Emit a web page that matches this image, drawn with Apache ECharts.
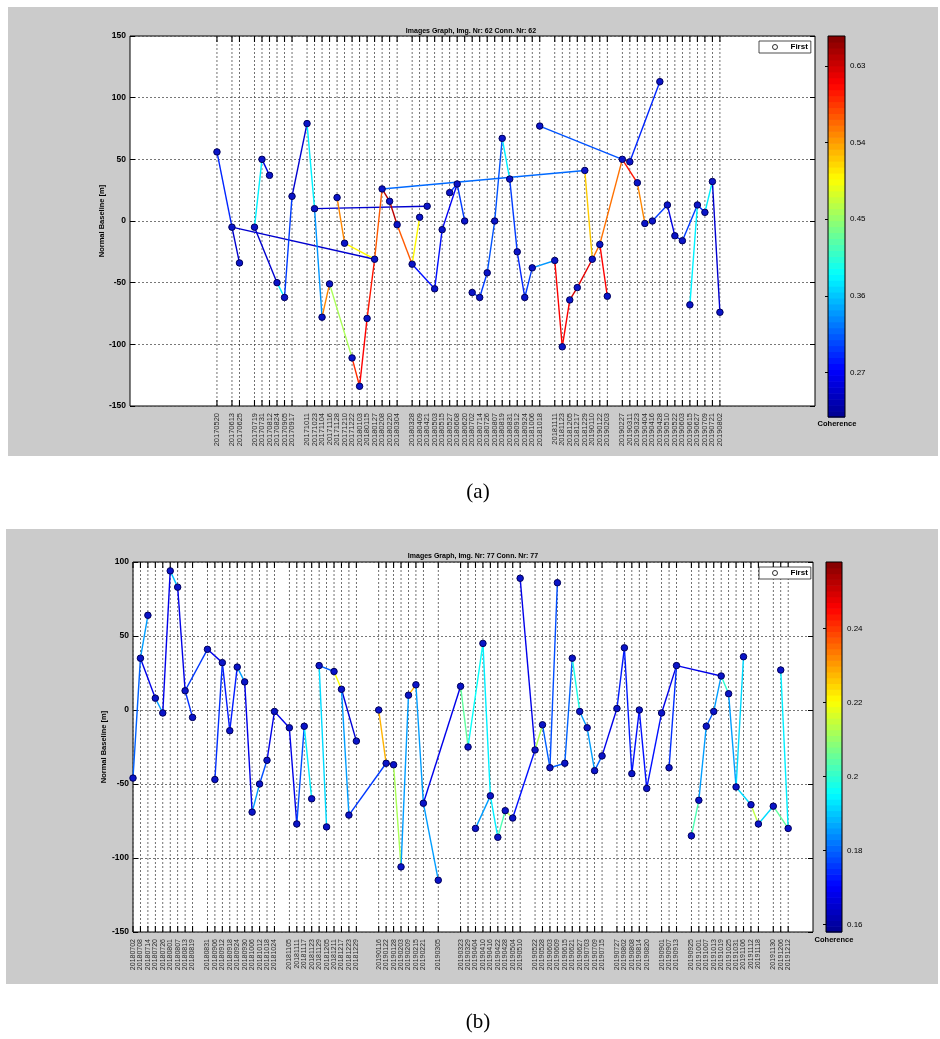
<!DOCTYPE html>
<html>
<head>
<meta charset="utf-8">
<script src="https://cdn.jsdelivr.net/npm/echarts@6/dist/echarts.min.js"></script>
<style>
  html, body { margin: 0; padding: 0; background: #fff; }
  #chart { width: 940px; height: 1039px; }
</style>
</head>
<body>
<div id="chart"></div>
<script>
// ---------- Panel (a): 62 acquisitions ----------
const datesA = ['20170520','20170613','20170625','20170719','20170731','20170812','20170824','20170905','20170917','20171011','20171023','20171104','20171116','20171128','20171210','20171222','20180103','20180115','20180127','20180208','20180220','20180304','20180328','20180409','20180421','20180503','20180515','20180527','20180608','20180620','20180702','20180714','20180726','20180807','20180819','20180831','20180912','20180924','20181006','20181018','20181111','20181123','20181205','20181217','20181229','20190110','20190122','20190203','20190227','20190311','20190323','20190404','20190416','20190428','20190510','20190522','20190603','20190615','20190627','20190709','20190721','20190802'];
const baselineA = [56,-5,-34,-5,50,37,-50,-62,20,79,10,-78,-51,19,-18,-111,-134,-79,-31,26,16,-3,-35,3,12,-55,-7,23,30,0,-58,-62,-42,0,67,34,-25,-62,-38,77,-32,-102,-64,-54,41,-31,-19,-61,50,48,31,-2,0,113,13,-12,-16,-68,13,7,32,-74];
// interferometric pairs: [master, slave, coherence]
const edgesA = [
  ['20170520','20170613',0.29],['20170613','20170625',0.25],['20170613','20180127',0.25],
  ['20170719','20170731',0.38],['20170731','20170812',0.26],['20170719','20170824',0.25],
  ['20170824','20170905',0.38],['20170905','20170917',0.30],['20170917','20171011',0.25],
  ['20171011','20171023',0.38],['20171023','20180421',0.25],['20171023','20171104',0.34],
  ['20171104','20171116',0.55],['20171116','20171222',0.46],['20171222','20180103',0.59],
  ['20180103','20180115',0.61],['20180115','20180127',0.60],['20180127','20180208',0.57],
  ['20171128','20171210',0.55],['20171210','20180127',0.50],['20180208','20180220',0.64],
  ['20180208','20181229',0.32],['20180220','20180304',0.64],['20180304','20180328',0.57],
  ['20180328','20180409',0.50],['20180328','20180503',0.28],['20180503','20180515',0.28],
  ['20180515','20180608',0.27],['20180527','20180608',0.30],['20180608','20180620',0.30],
  ['20180702','20180714',0.30],['20180714','20180726',0.30],['20180726','20180807',0.31],
  ['20180807','20180819',0.31],['20180819','20180831',0.38],['20180831','20180912',0.30],
  ['20180912','20180924',0.29],['20180924','20181006',0.30],['20181006','20181111',0.34],
  ['20181018','20190227',0.31],['20181111','20181123',0.61],['20181123','20181205',0.61],
  ['20181205','20181217',0.63],['20181217','20190110',0.62],['20181229','20190110',0.52],
  ['20190110','20190122',0.56],['20190122','20190203',0.61],['20190122','20190227',0.56],
  ['20190227','20190311',0.60],['20190227','20190323',0.60],['20190311','20190428',0.29],
  ['20190323','20190404',0.55],['20190404','20190416',0.50],['20190416','20190510',0.30],
  ['20190510','20190522',0.26],['20190522','20190603',0.29],['20190603','20190627',0.30],
  ['20190615','20190627',0.38],['20190627','20190709',0.29],['20190709','20190721',0.38],
  ['20190721','20190802',0.25]
];
const cohRangeA = [0.218, 0.665];
const cohTicksA = [0.27, 0.36, 0.45, 0.54, 0.63];
const titleA = 'Images Graph, Img. Nr: 62 Conn. Nr: 62';

// ---------- Panel (b): 77 acquisitions ----------
const datesB = ['20180702','20180708','20180714','20180720','20180726','20180801','20180807','20180813','20180819','20180831','20180906','20180912','20180918','20180924','20180930','20181006','20181012','20181018','20181024','20181105','20181111','20181117','20181123','20181129','20181205','20181211','20181217','20181223','20181229','20190116','20190122','20190128','20190203','20190209','20190215','20190221','20190305','20190323','20190329','20190404','20190410','20190416','20190422','20190428','20190504','20190510','20190522','20190528','20190603','20190609','20190615','20190621','20190627','20190703','20190709','20190715','20190727','20190802','20190808','20190814','20190820','20190901','20190907','20190913','20190925','20191001','20191007','20191013','20191019','20191025','20191031','20191106','20191112','20191118','20191130','20191206','20191212'];
const baselineB = [-46,35,64,8,-2,94,83,13,-5,41,-47,32,-14,29,19,-69,-50,-34,-1,-12,-77,-11,-60,30,-79,26,14,-71,-21,0,-36,-37,-106,10,17,-63,-115,16,-25,-80,45,-58,-86,-68,-73,89,-27,-10,-39,86,-36,35,-1,-12,-41,-31,1,42,-43,0,-53,-2,-39,30,-85,-61,-11,-1,23,11,-52,36,-64,-77,-65,27,-80];
const edgesB = [
  ['20180702','20180708',0.180],['20180708','20180714',0.186],['20180708','20180720',0.168],
  ['20180720','20180726',0.186],['20180726','20180801',0.168],['20180801','20180807',0.190],
  ['20180807','20180813',0.168],['20180813','20180819',0.175],['20180813','20180831',0.176],
  ['20180831','20180912',0.168],['20180906','20180912',0.175],['20180912','20180918',0.173],
  ['20180918','20180924',0.173],['20180924','20180930',0.186],['20180930','20181006',0.168],
  ['20181006','20181012',0.186],['20181012','20181018',0.178],['20181018','20181024',0.168],
  ['20181024','20181105',0.168],['20181105','20181111',0.168],['20181111','20181117',0.178],
  ['20181117','20181123',0.194],['20181129','20181205',0.192],['20181129','20181211',0.180],
  ['20181211','20181217',0.220],['20181217','20181229',0.166],['20181217','20181223',0.186],
  ['20181223','20190122',0.176],['20190116','20190122',0.228],['20190122','20190128',0.252],
  ['20190128','20190203',0.212],['20190203','20190209',0.186],['20190209','20190215',0.228],
  ['20190215','20190221',0.186],['20190221','20190305',0.186],['20190221','20190323',0.168],
  ['20190323','20190329',0.205],['20190329','20190410',0.196],['20190404','20190416',0.186],
  ['20190410','20190416',0.194],['20190416','20190422',0.194],['20190422','20190428',0.203],
  ['20190428','20190504',0.214],['20190504','20190522',0.172],['20190510','20190522',0.168],
  ['20190522','20190528',0.212],['20190528','20190603',0.180],['20190603','20190609',0.178],
  ['20190603','20190615',0.180],['20190615','20190621',0.180],['20190621','20190627',0.198],
  ['20190627','20190703',0.186],['20190703','20190709',0.186],['20190709','20190715',0.180],
  ['20190715','20190727',0.168],['20190727','20190802',0.173],['20190802','20190808',0.173],
  ['20190808','20190814',0.172],['20190814','20190820',0.172],['20190820','20190901',0.172],
  ['20190901','20190913',0.168],['20190907','20190913',0.175],['20190913','20191019',0.168],
  ['20190925','20191001',0.203],['20191001','20191007',0.186],['20191007','20191013',0.180],
  ['20191013','20191019',0.186],['20191019','20191025',0.200],['20191025','20191031',0.186],
  ['20191031','20191106',0.192],['20191031','20191112',0.192],['20191112','20191118',0.214],
  ['20191118','20191130',0.192],['20191130','20191212',0.205],['20191206','20191212',0.194]
];
const cohRangeB = [0.158, 0.258];
const cohTicksB = [0.16, 0.18, 0.2, 0.22, 0.24];
const titleB = 'Images Graph, Img. Nr: 77 Conn. Nr: 77';

// ---------- drawing helpers ----------
const FONT = "'Liberation Sans', Arial, sans-serif";
const JET = ['#00008f','#0000ff','#0080ff','#00ffff','#80ff80','#ffff00','#ff8000','#ff0000','#800000'];
const ymd = s => Date.UTC(+s.slice(0, 4), +s.slice(4, 6) - 1, +s.slice(6, 8));

// vertical dotted ruler + inner ticks + rotated date label for each acquisition
function rulerRenderer(dates, fontSize) {
  return function (params, api) {
    const cs = params.coordSys;
    const px = api.coord([api.value(0), api.value(1)])[0];
    const top = cs.y, bot = cs.y + cs.height;
    return {
      type: 'group',
      children: [
        { type: 'line', shape: { x1: px, y1: top, x2: px, y2: bot },
          style: { stroke: '#4d4d4d', lineWidth: 0.8, lineDash: [2, 2] } },
        { type: 'line', shape: { x1: px, y1: top, x2: px, y2: top + 6 },
          style: { stroke: '#000', lineWidth: 1.1 } },
        { type: 'line', shape: { x1: px, y1: bot, x2: px, y2: bot - 6 },
          style: { stroke: '#000', lineWidth: 1.1 } },
        { type: 'text', x: px, y: bot + 7, rotation: Math.PI / 2,
          style: { text: dates[params.dataIndex], x: 0, y: 0, align: 'right', verticalAlign: 'middle',
                   fontSize: fontSize, fontFamily: FONT, fill: '#2a2a2a' } }
      ]
    };
  };
}

function edgeRenderer(params, api) {
  const p1 = api.coord([api.value(0), api.value(1)]);
  const p2 = api.coord([api.value(2), api.value(3)]);
  return { type: 'line', shape: { x1: p1[0], y1: p1[1], x2: p2[0], y2: p2[1] },
           style: { stroke: api.visual('color'), lineWidth: 1.4 } };
}

function bandRenderer(params, api) {
  const p1 = api.coord([0, api.value(1)]);
  const p2 = api.coord([1, api.value(3)]);
  return { type: 'rect', shape: { x: p1[0], y: p2[1], width: p2[0] - p1[0], height: p1[1] - p2[1] + 0.6 },
           style: { fill: api.visual('color') } };
}

function edgeData(dates, base, edges) {
  return edges.map(([a, b, c]) => {
    const i = dates.indexOf(a), j = dates.indexOf(b);
    return [ymd(a), base[i], ymd(b), base[j], c];
  });
}

function bandData(range) {
  const n = 64, out = [];
  const step = (range[1] - range[0]) / n;
  for (let k = 0; k < n; k++) {
    const lo = range[0] + k * step, hi = lo + step;
    out.push([0, lo, 1, hi, (lo + hi) / 2]);
  }
  return out;
}

const fmtCoh = v => String(+v.toFixed(2));

function panel(p) {
  const gi = p.gridBase;        // main grid index; colour bar grid is gi + 1
  const grids = [
    { left: p.plot[0], top: p.plot[1], width: p.plot[2], height: p.plot[3],
      show: true, backgroundColor: '#fff', borderColor: '#000', borderWidth: 1 },
    { left: p.bar[0], top: p.bar[1], width: p.bar[2], height: p.bar[3],
      show: true, backgroundColor: 'transparent', borderColor: '#000', borderWidth: 1, z: 5 }
  ];
  const xAxes = [
    { gridIndex: gi, type: 'value', min: ymd(p.xStart), max: ymd(p.xEnd),
      axisLine: { show: false }, axisTick: { show: false }, axisLabel: { show: false }, splitLine: { show: false } },
    { gridIndex: gi + 1, type: 'value', min: 0, max: 1, show: false }
  ];
  const yBase = p.yAxisBase;
  const yAxes = [
    { gridIndex: gi, type: 'value', min: p.yMin, max: p.yMax, interval: 50,
      name: 'Normal Baseline [m]', nameLocation: 'middle', nameGap: p.nameGap, nameRotate: 90,
      nameMoveOverlap: false,
      nameTextStyle: { fontSize: 7.5, fontWeight: 'bold', fontFamily: FONT, color: '#000' },
      axisLine: { show: false },
      axisTick: { show: true, inside: true, length: 5, lineStyle: { color: '#000', width: 1 } },
      axisLabel: { fontSize: 8.5, fontWeight: 'bold', fontFamily: FONT, color: '#000', margin: 4 },
      splitLine: { show: true, lineStyle: { color: '#555', width: 0.8, type: [2, 2] } } },
    { gridIndex: gi, type: 'value', position: 'right', min: p.yMin, max: p.yMax, interval: 50,
      axisLine: { show: false }, axisLabel: { show: false }, splitLine: { show: false },
      axisTick: { show: true, inside: true, length: 5, lineStyle: { color: '#000', width: 1 } } },
    { gridIndex: gi + 1, type: 'value', position: 'right', min: p.coh[0], max: p.coh[1],
      axisLine: { show: false }, splitLine: { show: false },
      axisTick: { show: true, inside: true, length: 3, customValues: p.cohTicks, lineStyle: { color: '#000' } },
      axisLabel: { show: true, customValues: p.cohTicks, formatter: fmtCoh, margin: 5,
                   fontSize: 8, fontFamily: FONT, color: '#000' } },
    { gridIndex: gi + 1, type: 'value', position: 'left', min: p.coh[0], max: p.coh[1],
      axisLine: { show: false }, splitLine: { show: false }, axisLabel: { show: false },
      axisTick: { show: true, inside: true, length: 3, customValues: p.cohTicks, lineStyle: { color: '#000' } } }
  ];
  const series = [
    { type: 'custom', name: 'dates', xAxisIndex: gi, yAxisIndex: yBase, clip: false, silent: true, z: 1,
      renderItem: rulerRenderer(p.dates, p.labelSize),
      data: p.dates.map(d => [ymd(d), p.yMin]) },
    { type: 'custom', name: 'pairs', xAxisIndex: gi, yAxisIndex: yBase, silent: true, z: 2,
      encode: { x: [0, 2], y: [1, 3] },
      renderItem: edgeRenderer, data: edgeData(p.dates, p.base, p.edges) },
    { type: 'scatter', name: 'images', xAxisIndex: gi, yAxisIndex: yBase, z: 3, silent: true,
      symbol: 'circle', symbolSize: 6.5,
      itemStyle: { color: '#0a14c8', borderColor: '#00005a', borderWidth: 1, opacity: 1 },
      data: p.dates.map((d, i) => [ymd(d), p.base[i]]) },
    { type: 'custom', name: 'colorbar', xAxisIndex: gi + 1, yAxisIndex: yBase + 2, silent: true, z: 2,
      encode: { x: [0, 2], y: [1, 3] },
      renderItem: bandRenderer, data: bandData(p.coh) }
  ];
  return { grids, xAxes, yAxes, series };
}

const A = panel({
  gridBase: 0, yAxisBase: 0, dates: datesA, base: baselineA, edges: edgesA,
  coh: cohRangeA, cohTicks: cohTicksA, yMin: -150, yMax: 150,
  xStart: '20170101', xEnd: '20200101', labelSize: 7.5, nameGap: 24,
  plot: [130, 36, 685, 370], bar: [828, 36, 17, 381]
});
const B = panel({
  gridBase: 2, yAxisBase: 4, dates: datesB, base: baselineB, edges: edgesB,
  coh: cohRangeB, cohTicks: cohTicksB, yMin: -150, yMax: 100,
  xStart: '20180702', xEnd: '20200101', labelSize: 7, nameGap: 25,
  plot: [133, 562, 680, 370], bar: [826, 562, 16, 370]
});

const legendStyle = (top) => ({
  data: [{ name: 'First', icon: 'circle', itemStyle: { color: '#fff', borderColor: '#000', borderWidth: 1 } }],
  left: 759, top: top, orient: 'horizontal', selectedMode: false,
  itemWidth: 5, itemHeight: 5, padding: [2, 3, 2, 13],
  backgroundColor: '#fff', borderColor: '#222', borderWidth: 0.8, borderRadius: 0,
  textStyle: { fontSize: 8, fontWeight: 'bold', fontFamily: FONT, color: '#000', padding: [0, 0, 0, 8] }
});

const text = (x, y, str, size, weight, family) => ({
  type: 'text', x: x, y: y, silent: true, z: 10,
  style: { text: str, align: 'center', verticalAlign: 'middle', fontSize: size,
           fontWeight: weight || 'normal', fontFamily: family || FONT, fill: '#000' }
});

const option = {
  animation: false,
  backgroundColor: '#fff',
  grid: [...A.grids, ...B.grids],
  xAxis: [...A.xAxes, ...B.xAxes],
  yAxis: [...A.yAxes, ...B.yAxes],
  visualMap: [
    { type: 'continuous', show: false, min: cohRangeA[0], max: cohRangeA[1], dimension: 4,
      seriesIndex: [1, 3], inRange: { color: JET } },
    { type: 'continuous', show: false, min: cohRangeB[0], max: cohRangeB[1], dimension: 4,
      seriesIndex: [5, 7], inRange: { color: JET } }
  ],
  legend: [legendStyle(41), legendStyle(567)],
  series: [
    ...A.series, ...B.series,
    { type: 'scatter', name: 'First', xAxisIndex: 0, yAxisIndex: 0, data: [] }
  ],
  graphic: [
    { type: 'rect', z: -10, silent: true, shape: { x: 8, y: 7, width: 930, height: 449 }, style: { fill: '#cbcbcb' } },
    { type: 'rect', z: -10, silent: true, shape: { x: 6, y: 529, width: 932, height: 455 }, style: { fill: '#cbcbcb' } },
    text(471, 31, titleA, 7, 'bold'),
    text(473, 556, titleB, 7, 'bold'),
    text(837, 424, 'Coherence', 7.5, 'bold'),
    text(834, 940, 'Coherence', 7.5, 'bold'),
    text(478, 492, '(a)', 21, 'normal', "'Liberation Serif', 'Times New Roman', serif"),
    text(478, 1022, '(b)', 21, 'normal', "'Liberation Serif', 'Times New Roman', serif")
  ]
};

const chart = echarts.init(document.getElementById('chart'), null, { renderer: 'canvas' });
chart.setOption(option);
</script>
</body>
</html>
